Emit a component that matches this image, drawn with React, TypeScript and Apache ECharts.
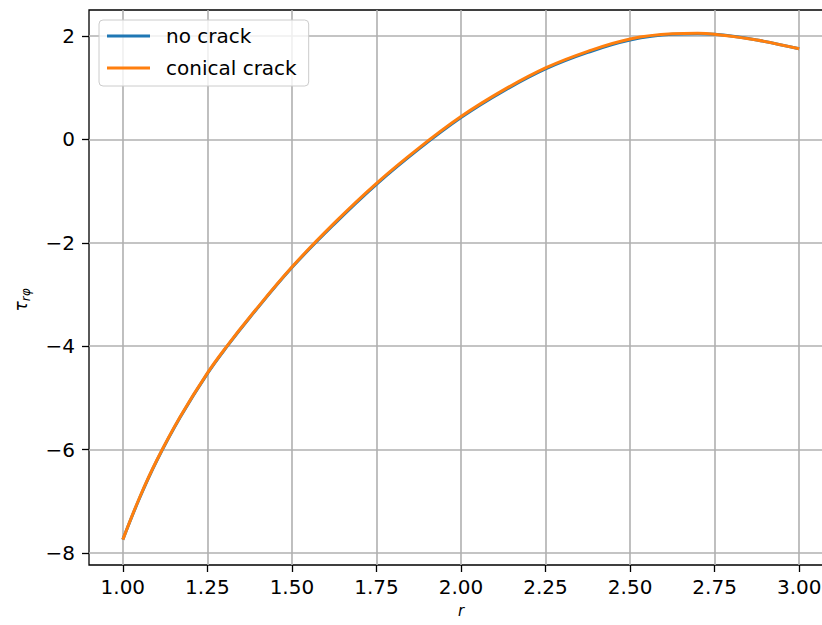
import React, { useEffect, useRef } from 'react';
import * as echarts from 'echarts';

const rValues = [1.0, 1.05, 1.1, 1.17, 1.25, 1.31, 1.375, 1.5, 1.625, 1.75, 1.875, 2.0, 2.125, 2.25, 2.375, 2.5, 2.625, 2.7, 2.75, 2.875, 3.0];
const conicalCrack = [-7.74, -6.92, -6.21, -5.36, -4.52, -3.98, -3.44, -2.47, -1.62, -0.85, -0.17, 0.44, 0.95, 1.38, 1.7, 1.94, 2.04, 2.05, 2.03, 1.92, 1.75];
const noCrack = [-7.74, -6.93, -6.22, -5.37, -4.53, -3.99, -3.45, -2.48, -1.64, -0.87, -0.19, 0.42, 0.93, 1.36, 1.68, 1.92, 2.03, 2.04, 2.03, 1.92, 1.75];
const seriesNames = ['no crack', 'conical crack'];
const xTicks = [1.0, 1.25, 1.5, 1.75, 2.0, 2.25, 2.5, 2.75, 3.0];
const yTicks = [-8, -6, -4, -2, 0, 2];

export default function App() {
  const ref = useRef<HTMLDivElement>(null);
  useEffect(() => {
    document.body.style.margin = '0';
    const chart = echarts.init(ref.current!, null, { renderer: 'svg' });
    const font = 'DejaVu Sans';
    const fmtY = (v: number) => (v < 0 ? '\u2212' + Math.abs(v) : String(v));
    chart.setOption({
      animation: false,
      backgroundColor: '#fff',
      grid: {
        left: 89,
        top: 10,
        right: 7,
        bottom: 60,
        show: true,
        borderColor: '#000',
        borderWidth: 1.3,
        backgroundColor: 'transparent',
      },
      legend: {
        orient: 'vertical',
        left: 99,
        top: 20,
        data: seriesNames,
        icon: 'rect',
        itemWidth: 43,
        itemHeight: 3,
        itemGap: 12,
        selectedMode: false,
        padding: [6, 12, 8, 8],
        backgroundColor: 'rgba(255,255,255,0.8)',
        borderColor: '#cccccc',
        borderWidth: 1,
        borderRadius: 4,
        textStyle: { fontFamily: font, fontSize: 20, color: '#000', padding: [0, 0, 0, 11] },
      },
      xAxis: {
        type: 'value',
        min: 0.9,
        max: 3.1,
        axisLine: { show: false, onZero: false },
        axisTick: { show: true, customValues: xTicks, length: 7, lineStyle: { color: '#000', width: 1.3 } },
        axisLabel: {
          customValues: xTicks,
          formatter: (v: number) => v.toFixed(2),
          fontFamily: font,
          fontSize: 20,
          color: '#000',
          margin: 12,
        },
        splitLine: { show: true, lineStyle: { color: '#b0b0b0', width: 1.6 } },
        name: 'r',
        nameLocation: 'middle',
        nameGap: 38,
        nameTextStyle: { fontFamily: font, fontStyle: 'italic', fontSize: 15, color: '#000' },
      },
      yAxis: {
        type: 'value',
        min: -8.23,
        max: 2.5,
        axisLine: { show: false, onZero: false },
        axisTick: { show: true, customValues: yTicks, length: 7, lineStyle: { color: '#000', width: 1.3 } },
        axisLabel: {
          customValues: yTicks,
          formatter: fmtY,
          fontFamily: font,
          fontSize: 20,
          color: '#000',
          margin: 14,
        },
        splitLine: { show: true, lineStyle: { color: '#b0b0b0', width: 1.6 } },
      },
      graphic: [
        {
          type: 'text',
          x: 21,
          y: 300,
          rotation: Math.PI / 2,
          style: {
            text: '{t|\u03c4}{s|r\u03c6}',
            align: 'center',
            verticalAlign: 'middle',
            fill: '#000',
            rich: {
              t: { fontFamily: font, fontStyle: 'italic', fontSize: 17, lineHeight: 22, verticalAlign: 'middle', fill: '#000' },
              s: { fontFamily: font, fontStyle: 'italic', fontSize: 12, lineHeight: 10, verticalAlign: 'bottom', fill: '#000' },
            },
          },
        },
      ],
      series: [
        {
          name: seriesNames[0],
          type: 'line',
          data: rValues.map((r, i) => [r, noCrack[i]]),
          symbol: 'none',
          smooth: 0.4,
          lineStyle: { color: '#1f77b4', width: 3 },
          itemStyle: { color: '#1f77b4' },
          z: 3,
        },
        {
          name: seriesNames[1],
          type: 'line',
          data: rValues.map((r, i) => [r, conicalCrack[i]]),
          symbol: 'none',
          smooth: 0.4,
          lineStyle: { color: '#ff7f0e', width: 3 },
          itemStyle: { color: '#ff7f0e' },
          z: 4,
        },
      ],
    });
    return () => chart.dispose();
  }, []);
  return (
    <div style={{ width: 822, height: 625, overflow: 'hidden', position: 'relative' }}>
      <div ref={ref} style={{ width: 840, height: 625 }} />
    </div>
  );
}
